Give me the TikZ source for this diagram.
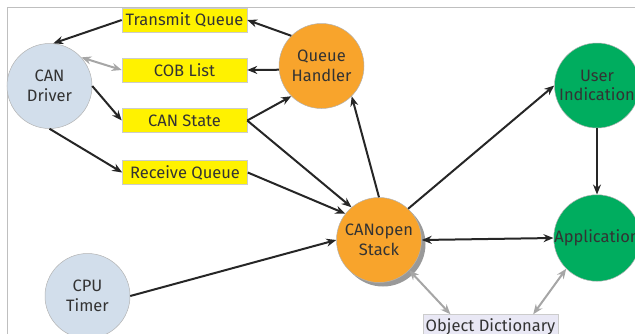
\documentclass[tikz,border=0pt]{standalone}
\usepackage{fontspec}
\setmainfont{Fira Sans}
\usetikzlibrary{arrows.meta,shadows}
\definecolor{drvblue}{HTML}{D2DEEB}
\definecolor{stackorange}{HTML}{F8A42C}
\definecolor{appgreen}{HTML}{00AD5F}
\definecolor{boxyellow}{HTML}{FFF200}
\definecolor{dictlilac}{HTML}{E9E8F5}
\definecolor{txtgray}{HTML}{333333}

\begin{document}
\begin{tikzpicture}[x=1pt,y=-1pt,>={Stealth[length=10pt,width=8pt]},line width=2pt,
    circ node/.style={circle,draw=gray!60,line width=0.5pt,minimum size=85pt,inner sep=0pt,align=center,text=txtgray,font=\fontsize{16.5}{19.5}\selectfont},
    queue node/.style={rectangle,draw=gray!40,line width=0.5pt,fill=boxyellow,minimum width=125pt,minimum height=24pt,inner sep=0pt,text=txtgray,font=\fontsize{16.5}{19.5}\selectfont}]
            \path[use as bounding box,clip] (0,0) rectangle (635,333);
            \draw[gray!50,line width=1pt] (7,7) rectangle (700,400);

            \node[circ node,fill=drvblue] (driver) at (49.5,86) {CAN\\Driver};
            \node[circ node,fill=drvblue] (timer) at (87.5,296) {CPU\\Timer};
            \node[circ node,fill=stackorange] (handler) at (321.5,66) {Queue\\Handler};
            \node[circ node,fill=stackorange,drop shadow={shadow xshift=4pt,shadow yshift=-4pt,fill=gray!80,opacity=1}] (stack) at (379,240) {CANopen\\Stack};
            \node[circ node,fill=appgreen] (user) at (597,85.5) {User\\Indication};
            \node[circ node,fill=appgreen] (app) at (597,238) {Application};

            \node[queue node] (txq) at (184.5,20) {Transmit Queue};
            \node[queue node] (cob) at (184.5,70) {COB List};
            \node[queue node] (state) at (184.5,120.5) {CAN State};
            \node[queue node] (rxq) at (185,172.5) {Receive Queue};
            \node[queue node,fill=dictlilac,minimum width=135pt] (dict) at (490.5,326.5) {Object Dictionary};

            \path[draw=black!85]
                (txq.west) edge[->] (driver.85)
                (handler.135) edge[->] (txq.east)
                (handler.185) edge[->] (cob.east)
                (driver.east) edge[->] (state.west)
                (driver.south) edge[->] (rxq.west)
                (state.east) edge[->] (handler.225)
                (state.east) edge[->] (stack.130)
                (rxq.east) edge[->] (stack.142)
                (timer.east) edge[->] (stack.west)
                (stack.north) edge[->] (handler.-45)
                (stack.47) edge[->] (user.west)
                (user.south) edge[->] (app.north)
                (stack.east) edge[<->] (app.west)
            ;

            \path[draw=gray!70]
                (driver.42) edge[<->] (cob.west)
                (stack.-45) edge[<->] (dict.163)
                (app.225) edge[<->] (dict.16)
            ;
        \end{tikzpicture}
\end{document}
